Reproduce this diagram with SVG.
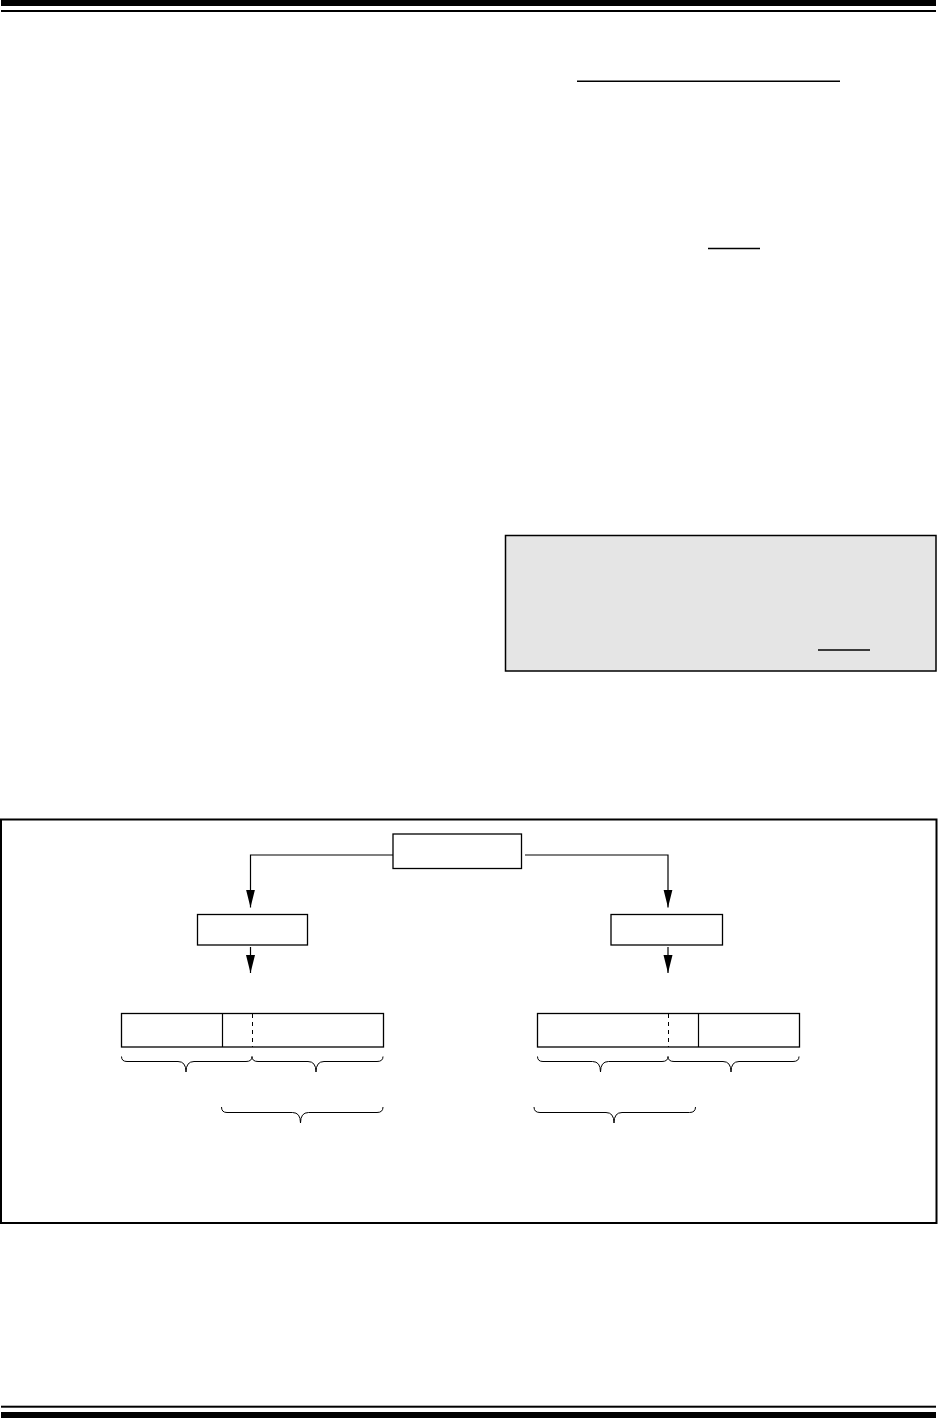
<svg xmlns="http://www.w3.org/2000/svg" width="938" height="1418" viewBox="0 0 938 1418">
<style>
.box{fill:#fff;stroke:#000;stroke-width:1.3}
.ln{fill:none;stroke:#000;stroke-width:1.2}
.brace{fill:none;stroke:#000;stroke-width:1}
.dash{stroke:#000;stroke-width:1;stroke-dasharray:4,4}
.bar{fill:#000}
</style>
<defs>
<marker id="ah" markerUnits="userSpaceOnUse" viewBox="0 -5 18 10" markerWidth="18" markerHeight="10" refX="18" refY="0" orient="auto">
<path d="M0,-4.5 L18,0 L0,4.5 z" fill="#000"/>
</marker>
</defs>
<rect width="938" height="1418" fill="#fff"/>
<g id="page-rules">
<rect class="bar" x="1" y="0" width="935" height="6"/>
<rect class="bar" x="1" y="10" width="935" height="2"/>
<rect class="bar" x="1" y="1405.7" width="935" height="2"/>
<rect class="bar" x="1" y="1412" width="935" height="6"/>
<line x1="577" y1="81.3" x2="840" y2="81.3" stroke="#000" stroke-width="1.5"/>
<line x1="708" y1="248.5" x2="760" y2="248.5" stroke="#000" stroke-width="1.3"/>
</g>
<g id="note">
<rect x="505.5" y="535.5" width="430.5" height="135.5" fill="#e5e5e5" stroke="#000" stroke-width="1.5"/>
<line x1="818" y1="650" x2="870" y2="650" stroke="#000" stroke-width="1.3"/>
</g>
<g id="figure-frame">
<rect x="1" y="819.5" width="935.5" height="403.5" fill="none" stroke="#000" stroke-width="2"/>
</g>
<g id="connectors">
<path class="ln" d="M393,855 H250.5 V907.5" marker-end="url(#ah)"/>
<path class="ln" d="M525,855 H668 V907.5" marker-end="url(#ah)"/>
<path class="ln" d="M250.5,947 V973" marker-end="url(#ah)"/>
<path class="ln" d="M668,947 V973" marker-end="url(#ah)"/>
</g>
<g id="node-top">
<rect class="box" x="393" y="834" width="128.5" height="34.5"/>
</g>
<g id="node-left">
<rect class="box" x="197.5" y="914.5" width="110" height="30.5"/>
</g>
<g id="node-right">
<rect class="box" x="611" y="914.5" width="111.5" height="30.5"/>
</g>
<g id="field-left">
<rect class="box" x="121.5" y="1013.5" width="262" height="33.5"/>
<line x1="222.5" y1="1013.5" x2="222.5" y2="1047" stroke="#000" stroke-width="1.2"/>
<line class="dash" x1="252.5" y1="1014" x2="252.5" y2="1047"/>
</g>
<g id="field-right">
<rect class="box" x="537.5" y="1013.5" width="262" height="33.5"/>
<line x1="698.5" y1="1013.5" x2="698.5" y2="1047" stroke="#000" stroke-width="1.2"/>
<line class="dash" x1="668.5" y1="1014" x2="668.5" y2="1047"/>
</g>
<g id="braces">
<path class="brace" d="M121.5,1056.5 Q121.5,1061.5 127,1061.5 L178,1061.5 Q186,1061.5 186,1072 Q186,1061.5 194,1061.5 L246,1061.5 Q252,1061.5 252,1056.5 Q252,1061.5 258,1061.5 L308,1061.5 Q316,1061.5 316,1072 Q316,1061.5 324,1061.5 L377,1061.5 Q383,1061.5 383,1056.5"/>
<path class="brace" d="M537.5,1056.5 Q537.5,1061.5 543,1061.5 L592.5,1061.5 Q600.5,1061.5 600.5,1072 Q600.5,1061.5 608.5,1061.5 L662,1061.5 Q668,1061.5 668,1056.5 Q668,1061.5 674,1061.5 L723,1061.5 Q731,1061.5 731,1072 Q731,1061.5 739,1061.5 L793,1061.5 Q799,1061.5 799,1056.5"/>
<path class="brace" d="M221.5,1107 Q221.5,1112.5 227,1112.5 L292.5,1112.5 Q300.5,1112.5 300.5,1123 Q300.5,1112.5 308.5,1112.5 L377,1112.5 Q383,1112.5 383,1107"/>
<path class="brace" d="M534,1107 Q534,1112.5 540,1112.5 L606,1112.5 Q614,1112.5 614,1123 Q614,1112.5 622,1112.5 L689.5,1112.5 Q695.5,1112.5 695.5,1107"/>
</g>
</svg>
